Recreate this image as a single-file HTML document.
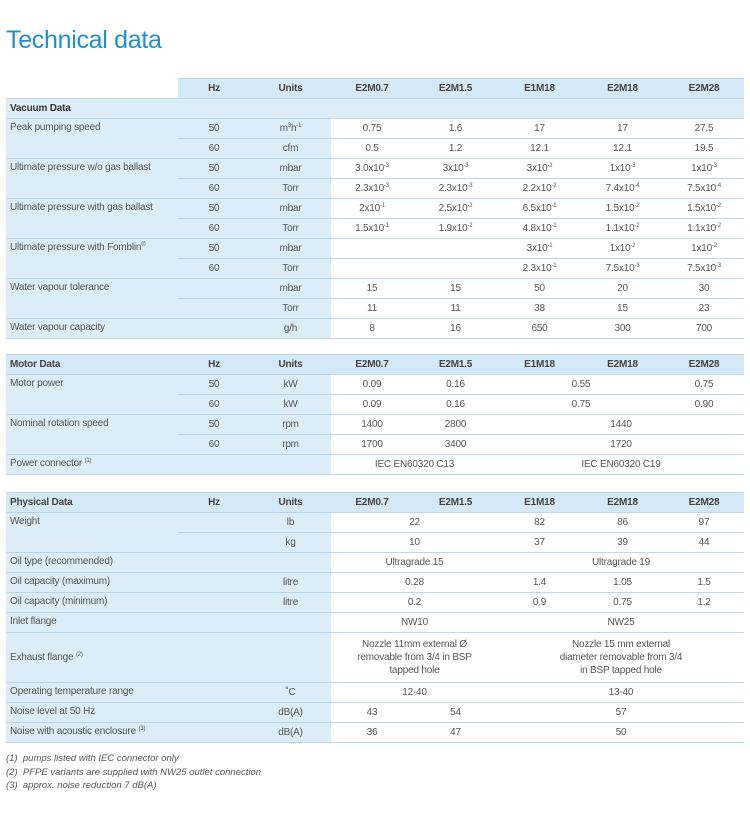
<!DOCTYPE html>
<html><head><meta charset="utf-8"><style>
body{margin:0;width:750px;height:814px;background:#fff;font-family:"Liberation Sans",sans-serif;color:#555;position:relative;overflow:hidden}
h1{position:absolute;left:6px;top:26px;margin:0;font-weight:normal;font-size:25px;color:#1f8fcf;letter-spacing:-0.3px}
table{position:absolute;left:6px;border-collapse:collapse;table-layout:fixed;width:738px;font-size:10px;letter-spacing:-0.2px}
td{height:19px;padding:0;text-align:center;border-top:1px solid #c3d8e6;vertical-align:middle;white-space:nowrap;line-height:12px}
td.l{text-align:left;padding-left:4px;vertical-align:top;padding-top:3px;height:16px}
td.b,td.l,td.h,td.u{background:#dcedf8;border-top-color:#b9d5ea}
tr.hd td{background:#d4e8f6;font-weight:bold;color:#444;border-top:1px solid #b9d5ea}
tr.sec td{background:#dcedf8;font-weight:bold;color:#333;text-align:left;padding-left:4px}
tr.last td{border-bottom:1px solid #b9d5ea}
td.e{border-top:none;background:#fff}
sup{font-size:6px;line-height:0;vertical-align:4px}
.fn{position:absolute;left:6px;font-size:9.5px;font-style:italic;color:#555}
</style></head><body>
<h1>Technical data</h1>
<table style="top:78px">
<colgroup><col style="width:172px"><col style="width:72px"><col style="width:81px"><col style="width:82px"><col style="width:85px"><col style="width:83px"><col style="width:83px"><col style="width:80px"></colgroup>
<tr class="hd"><td class="e" style="background:#fff;border-top:none"></td><td>Hz</td><td>Units</td><td>E2M0.7</td><td>E2M1.5</td><td>E1M18</td><td>E2M18</td><td>E2M28</td></tr>
<tr class="sec"><td colspan="8">Vacuum Data</td></tr>
<tr><td class="l" rowspan="2">Peak pumping speed</td><td class="h">50</td><td class="u">m<sup>3</sup>h<sup>-1</sup></td><td>0.75</td><td>1.6</td><td>17</td><td>17</td><td>27.5</td></tr>
<tr><td class="h">60</td><td class="u">cfm</td><td>0.5</td><td>1.2</td><td>12.1</td><td>12.1</td><td>19.5</td></tr>
<tr><td class="l" rowspan="2">Ultimate pressure w/o gas ballast</td><td class="h">50</td><td class="u">mbar</td><td>3.0x10<sup>-3</sup></td><td>3x10<sup>-3</sup></td><td>3x10<sup>-2</sup></td><td>1x10<sup>-3</sup></td><td>1x10<sup>-3</sup></td></tr>
<tr><td class="h">60</td><td class="u">Torr</td><td>2.3x10<sup>-3</sup></td><td>2.3x10<sup>-3</sup></td><td>2.2x10<sup>-2</sup></td><td>7.4x10<sup>-4</sup></td><td>7.5x10<sup>-4</sup></td></tr>
<tr><td class="l" rowspan="2">Ultimate pressure with gas ballast</td><td class="h">50</td><td class="u">mbar</td><td>2x10<sup>-1</sup></td><td>2.5x10<sup>-2</sup></td><td>6.5x10<sup>-1</sup></td><td>1.5x10<sup>-2</sup></td><td>1.5x10<sup>-2</sup></td></tr>
<tr><td class="h">60</td><td class="u">Torr</td><td>1.5x10<sup>-1</sup></td><td>1.9x10<sup>-2</sup></td><td>4.8x10<sup>-1</sup></td><td>1.1x10<sup>-2</sup></td><td>1.1x10<sup>-2</sup></td></tr>
<tr><td class="l" rowspan="2">Ultimate pressure with Fomblin<sup>®</sup></td><td class="h">50</td><td class="u">mbar</td><td></td><td></td><td>3x10<sup>-1</sup></td><td>1x10<sup>-2</sup></td><td>1x10<sup>-2</sup></td></tr>
<tr><td class="h">60</td><td class="u">Torr</td><td></td><td></td><td>2.3x10<sup>-1</sup></td><td>7.5x10<sup>-3</sup></td><td>7.5x10<sup>-3</sup></td></tr>
<tr><td class="l" rowspan="2">Water vapour tolerance</td><td class="h"></td><td class="u">mbar</td><td>15</td><td>15</td><td>50</td><td>20</td><td>30</td></tr>
<tr><td class="h"></td><td class="u">Torr</td><td>11</td><td>11</td><td>38</td><td>15</td><td>23</td></tr>
<tr class="last"><td class="l">Water vapour capacity</td><td class="h"></td><td class="u">g/h</td><td>8</td><td>16</td><td>650</td><td>300</td><td>700</td></tr>
</table>

<table style="top:354px">
<colgroup><col style="width:172px"><col style="width:72px"><col style="width:81px"><col style="width:82px"><col style="width:85px"><col style="width:83px"><col style="width:83px"><col style="width:80px"></colgroup>
<tr class="hd"><td style="text-align:left;padding-left:4px">Motor Data</td><td>Hz</td><td>Units</td><td>E2M0.7</td><td>E2M1.5</td><td>E1M18</td><td>E2M18</td><td>E2M28</td></tr>
<tr><td class="l" rowspan="2">Motor power</td><td class="h">50</td><td class="u">kW</td><td>0.09</td><td>0.16</td><td colspan="2">0.55</td><td>0.75</td></tr>
<tr><td class="h">60</td><td class="u">kW</td><td>0.09</td><td>0.16</td><td colspan="2">0.75</td><td>0.90</td></tr>
<tr><td class="l" rowspan="2">Nominal rotation speed</td><td class="h">50</td><td class="u">rpm</td><td>1400</td><td>2800</td><td colspan="3">1440</td></tr>
<tr><td class="h">60</td><td class="u">rpm</td><td>1700</td><td>3400</td><td colspan="3">1720</td></tr>
<tr class="last"><td class="l">Power connector <sup>(1)</sup></td><td class="h"></td><td class="u"></td><td colspan="2">IEC EN60320 C13</td><td colspan="3">IEC EN60320 C19</td></tr>
</table>

<table style="top:492px">
<colgroup><col style="width:172px"><col style="width:72px"><col style="width:81px"><col style="width:82px"><col style="width:85px"><col style="width:83px"><col style="width:83px"><col style="width:80px"></colgroup>
<tr class="hd"><td style="text-align:left;padding-left:4px">Physical Data</td><td>Hz</td><td>Units</td><td>E2M0.7</td><td>E2M1.5</td><td>E1M18</td><td>E2M18</td><td>E2M28</td></tr>
<tr><td class="l" rowspan="2">Weight</td><td class="h"></td><td class="u">lb</td><td colspan="2">22</td><td>82</td><td>86</td><td>97</td></tr>
<tr><td class="h"></td><td class="u">kg</td><td colspan="2">10</td><td>37</td><td>39</td><td>44</td></tr>
<tr><td class="l">Oil type (recommended)</td><td class="h"></td><td class="u"></td><td colspan="2">Ultragrade 15</td><td colspan="3">Ultragrade 19</td></tr>
<tr><td class="l">Oil capacity (maximum)</td><td class="h"></td><td class="u">litre</td><td colspan="2">0.28</td><td>1.4</td><td>1.05</td><td>1.5</td></tr>
<tr><td class="l">Oil capacity (minimum)</td><td class="h"></td><td class="u">litre</td><td colspan="2">0.2</td><td>0.9</td><td>0.75</td><td>1.2</td></tr>
<tr><td class="l">Inlet flange</td><td class="h"></td><td class="u"></td><td colspan="2">NW10</td><td colspan="3">NW25</td></tr>
<tr><td class="l" style="height:49px;vertical-align:middle;padding-top:0">Exhaust flange <sup>(2)</sup></td><td class="h"></td><td class="u"></td><td colspan="2" style="white-space:normal;line-height:13px">Nozzle 11mm external Ø<br>removable from 3/4 in BSP<br>tapped hole</td><td colspan="3" style="white-space:normal;line-height:13px">Nozzle 15 mm external<br>diameter removable from 3/4<br>in BSP tapped hole</td></tr>
<tr><td class="l">Operating temperature range</td><td class="h"></td><td class="u">˚C</td><td colspan="2">12-40</td><td colspan="3">13-40</td></tr>
<tr><td class="l">Noise level at 50 Hz</td><td class="h"></td><td class="u">dB(A)</td><td>43</td><td>54</td><td colspan="3">57</td></tr>
<tr class="last"><td class="l">Noise with acoustic enclosure <sup>(3)</sup></td><td class="h"></td><td class="u">dB(A)</td><td>36</td><td>47</td><td colspan="3">50</td></tr>
</table>

<div class="fn" style="top:753px">(1)&nbsp; pumps listed with IEC connector only</div>
<div class="fn" style="top:767px">(2)&nbsp; PFPE variants are supplied with NW25 outlet connection</div>
<div class="fn" style="top:780px">(3)&nbsp; approx. noise reduction 7 dB(A)</div>
</body></html>
